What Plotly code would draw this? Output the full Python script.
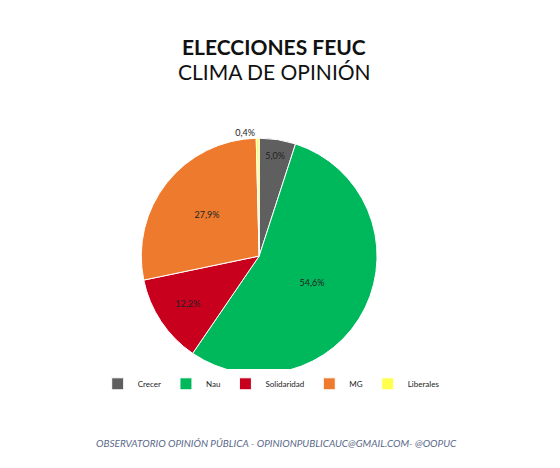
import plotly.graph_objects as go

labels = ["Crecer", "Nau", "Solidaridad", "MG", "Liberales"]
values = [5.0, 54.6, 12.2, 27.9, 0.4]
colors = ["#5f5f5f", "#00b85c", "#c8001e", "#ee7a2e", "#ffff4d"]
positions = ["inside", "inside", "inside", "inside", "outside"]

fig = go.Figure(go.Pie(
    labels=labels, values=values, sort=False, direction="clockwise", rotation=0,
    marker=dict(colors=colors, line=dict(color="white", width=1)),
    texttemplate="%{value:.1f}%", textposition=positions, insidetextorientation="horizontal",
    textfont=dict(size=9, color="#222", family="Lato"),
    domain=dict(x=[0.238, 0.659], y=[0.218, 0.722]), hoverinfo="label+percent",
))
fig.update_layout(
    width=560, height=468, margin=dict(l=0, r=0, t=0, b=0),
    paper_bgcolor="white", separators=",.",
    font=dict(family="Lato"),
    legend=dict(orientation="h", x=0.47, xanchor="center", y=0.197, yanchor="middle",
                font=dict(size=8, color="#222"), itemwidth=30, traceorder="normal",
                tracegroupgap=0),
    annotations=[
        dict(text="<b>ELECCIONES FEUC</b>", x=0.475, y=1-24/468, xref="paper", yref="paper",
             showarrow=False, font=dict(size=21, color="#111", family="Lato")),
        dict(text="CLIMA DE OPINIÓN", x=0.475, y=1-49/468, xref="paper", yref="paper",
             showarrow=False, font=dict(size=21, color="#111", family="Lato")),
        dict(text="<i>OBSERVATORIO OPINIÓN PÚBLICA - OPINIONPUBLICAUC@GMAIL.COM- @OOPUC</i>",
             x=0.48, y=1-443/468, xref="paper", yref="paper", showarrow=False,
             font=dict(size=10, color="#5a6a8a", family="Lato")),
    ],
)
fig.write_html("out.html")
